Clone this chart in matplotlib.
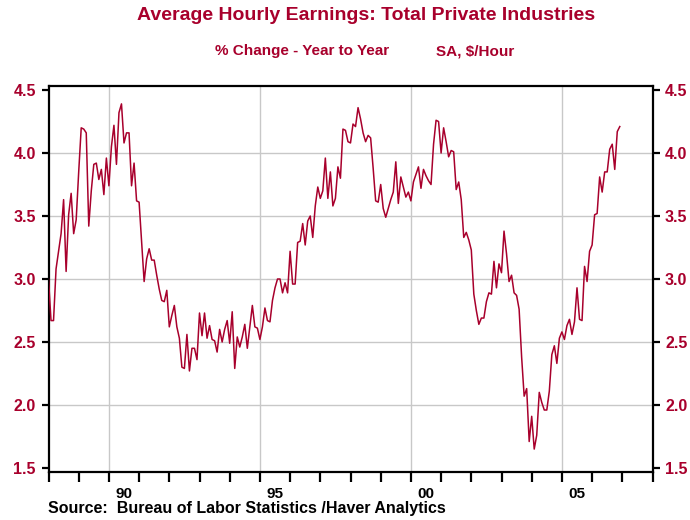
import matplotlib
matplotlib.use('Agg')
import matplotlib.pyplot as plt
import numpy as np

plt.rcParams['font.family'] = ['Liberation Sans', 'DejaVu Sans']

# Colors
red_color = '#A8002C'
grid_color = '#C8C8C8'

# Monthly % change, Jan 1988 - Dec 2006
start_year = 1988
earnings = [
    3.00, 2.67, 2.67, 3.08, 3.22, 3.36, 3.63, 3.06, 3.51, 3.68, 3.36, 3.47,  # 1988
    3.85, 4.20, 4.19, 4.16, 3.42, 3.70, 3.91, 3.92, 3.79, 3.87, 3.67, 3.96,  # 1989
    3.74, 4.05, 4.22, 3.91, 4.32, 4.39, 4.08, 4.16, 4.16, 3.74, 3.92, 3.62,  # 1990
    3.61, 3.30, 2.98, 3.16, 3.24, 3.15, 3.15, 3.03, 2.92, 2.83, 2.82, 2.91,  # 1991
    2.62, 2.71, 2.79, 2.62, 2.53, 2.30, 2.29, 2.56, 2.27, 2.45, 2.45, 2.36,  # 1992
    2.73, 2.55, 2.73, 2.53, 2.63, 2.52, 2.51, 2.42, 2.60, 2.50, 2.60, 2.67,  # 1993
    2.49, 2.74, 2.29, 2.54, 2.46, 2.54, 2.64, 2.45, 2.62, 2.79, 2.62, 2.61,  # 1994
    2.52, 2.62, 2.77, 2.67, 2.66, 2.83, 2.93, 3.00, 3.00, 2.89, 2.97, 2.89,  # 1995
    3.22, 2.96, 2.96, 3.29, 3.30, 3.44, 3.27, 3.46, 3.50, 3.33, 3.58, 3.73,  # 1996
    3.64, 3.70, 3.96, 3.64, 3.85, 3.58, 3.64, 3.89, 3.80, 4.19, 4.18, 4.09,  # 1997
    4.08, 4.23, 4.21, 4.36, 4.27, 4.16, 4.09, 4.14, 4.12, 3.88, 3.62, 3.61,  # 1998
    3.75, 3.56, 3.49, 3.56, 3.63, 3.69, 3.93, 3.60, 3.81, 3.73, 3.65, 3.69,  # 1999
    3.62, 3.77, 3.83, 3.89, 3.72, 3.87, 3.82, 3.78, 3.75, 4.07, 4.26, 4.25,  # 2000
    4.00, 4.20, 4.09, 3.97, 4.02, 4.01, 3.71, 3.77, 3.63, 3.33, 3.37, 3.31,  # 2001
    3.23, 2.88, 2.75, 2.64, 2.69, 2.69, 2.82, 2.89, 2.88, 3.14, 2.93, 3.12,  # 2002
    3.05, 3.38, 3.20, 2.98, 3.03, 2.89, 2.87, 2.76, 2.38, 2.07, 2.13, 1.71,  # 2003
    1.91, 1.65, 1.76, 2.10, 2.02, 1.96, 1.96, 2.11, 2.40, 2.47, 2.33, 2.53,  # 2004
    2.58, 2.52, 2.63, 2.68, 2.56, 2.66, 2.93, 2.68, 2.67, 3.10, 2.98, 3.22,  # 2005
    3.27, 3.51, 3.52, 3.81, 3.69, 3.85, 3.85, 4.03, 4.07, 3.87, 4.17, 4.21,  # 2006
]
dates = start_year + np.arange(len(earnings)) / 12.0

y_ticks = [1.5, 2.0, 2.5, 3.0, 3.5, 4.0, 4.5]
year_ticks = list(range(1988, 2009))
grid_years = [1990, 1995, 2000, 2005]
year_labels = ['90', '95', '00', '05']

fig = plt.figure(figsize=(6.9, 5.2), dpi=100, facecolor='white')
ax = fig.add_axes([48.5 / 690, 48 / 520, 604 / 690, 386 / 520])

ax.plot(dates, earnings, color=red_color, linewidth=1.1, zorder=3)

ax.set_xlim(1988, 2008)
ax.set_ylim(1.468, 4.532)

# grid
for g in y_ticks[1:-1]:
    ax.axhline(g, color=grid_color, linewidth=1.0, zorder=1)
for g in grid_years:
    ax.axvline(g, color=grid_color, linewidth=1.0, zorder=1)

for s in ax.spines.values():
    s.set_linewidth(1.6)
    s.set_color('black')

# y axis on both sides
ax.set_yticks(y_ticks)
ax.set_yticklabels([f'{v:.1f}' for v in y_ticks])
ax.tick_params(axis='y', which='major', left=True, right=True,
               labelleft=True, labelright=True, direction='out',
               length=5, width=1.6, pad=4, labelsize=11.5,
               labelcolor=red_color)
for lab in ax.get_yticklabels():
    lab.set_fontweight('bold')

# x axis: year ticks, labels at mid-year
ax.set_xticks(year_ticks)
ax.set_xticklabels([])
ax.set_xticks([y + 0.5 for y in grid_years], minor=True)
ax.set_xticklabels(year_labels, minor=True)
ax.tick_params(axis='x', which='major', direction='out', length=7,
               width=1.6, bottom=True, top=False)
ax.tick_params(axis='x', which='minor', length=0, pad=11, labelsize=11)
for lab in ax.get_xticklabels(minor=True):
    lab.set_fontweight('bold')

# titles
fig.text(366 / 690, 1 - 16 / 520, 'Average Hourly Earnings: Total Private Industries',
         ha='center', va='center', color=red_color, fontsize=14,
         fontweight='bold')
fig.text(302 / 690, 1 - 51 / 520, '% Change - Year to Year',
         ha='center', va='center', color=red_color, fontsize=11,
         fontweight='bold')
fig.text(475 / 690, 1 - 51 / 520, 'SA, $/Hour',
         ha='center', va='center', color=red_color, fontsize=11,
         fontweight='bold')
fig.text(48 / 690, 1 - 509 / 520,
         'Source:  Bureau of Labor Statistics /Haver Analytics',
         ha='left', va='center', color='black', fontsize=11.5,
         fontweight='bold')

fig.savefig('out.png', dpi=100, facecolor='white')
